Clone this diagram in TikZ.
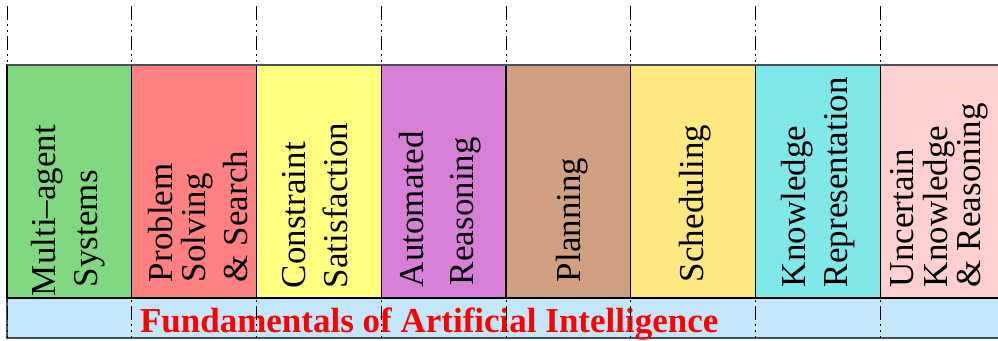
\documentclass[tikz,border=0pt]{standalone}
\usepackage{fontspec}
\setmainfont{Liberation Serif}
\definecolor{cA}{HTML}{80D880}
\definecolor{cB}{HTML}{FF8080}
\definecolor{cC}{HTML}{FFFF80}
\definecolor{cD}{HTML}{D880D8}
\definecolor{cE}{HTML}{D0A080}
\definecolor{cF}{HTML}{FFE880}
\definecolor{cG}{HTML}{80E8E8}
\definecolor{cH}{HTML}{FFD0D0}
\definecolor{bandfill}{HTML}{C4E6FA}
\definecolor{bandline}{HTML}{4A5058}
\begin{document}
\begin{tikzpicture}[x=1pt,y=-1pt,
  lbl/.style={rotate=90,anchor=base west,inner sep=0pt,outer sep=0pt,font=\fontsize{35}{40}\selectfont},
  ttl/.style={anchor=base west,inner sep=0pt,outer sep=0pt,text=red,font=\fontsize{35}{40}\selectfont\bfseries},
  colbox/.style={draw=black,line width=1.3pt},
  guide/.style={line width=0.9pt,dash pattern=on 14pt off 4pt on 2pt off 4pt on 2pt off 4pt},
  bandbox/.style={draw=bandline,fill=bandfill,line width=1.3pt}]
\useasboundingbox (0,0) rectangle (998,340);
\clip (0,0) rectangle (998,340);
% band
\draw[bandbox] (7,298) rectangle (1010,338);
\node[ttl] (title) at (140,332) {Fundamentals of Artificial Intelligence};
% guides
\foreach \i in {0,...,8} {
  \coordinate (g\i t) at (7+124.75*\i,6);
  \coordinate (g\i b) at (7+124.75*\i,338);
  \draw[guide] (g\i t) -- (g\i b);
}
% boxes
\foreach \i/\c in {0/cA,1/cB,2/cC,3/cD,4/cE,5/cF,6/cG,7/cH} {
  \draw[colbox,fill=\c] (7+124.75*\i,65) rectangle (7+124.75*\i+124.75,298);
}
\draw[draw=bandline,line width=1.3pt] (7,65) -- (1010,65);
% labels
\node[lbl] (l1a) at (55,296) {Multi–agent};
\node[lbl] (l1b) at (97,287) {Systems};
\node[lbl] (l2a) at (172,282) {Problem};
\node[lbl] (l2b) at (205,282) {Solving};
\node[lbl] (l2c) at (247,282) {\& Search};
\node[lbl] (l3a) at (305,288) {Constraint};
\node[lbl] (l3b) at (347,288) {Satisfaction};
\node[lbl] (l4a) at (423,287) {Automated};
\node[lbl] (l4b) at (473,285) {Reasoning};
\node[lbl] (l5a) at (580,282) {Planning};
\node[lbl] (l6a) at (703,282) {Scheduling};
\node[lbl] (l7a) at (805,287) {Knowledge};
\node[lbl] (l7b) at (847,287) {Representation};
\node[lbl] (l8a) at (913,287) {Uncertain};
\node[lbl] (l8b) at (947,287) {Knowledge};
\node[lbl] (l8c) at (980,287) {\& Reasoning};
\end{tikzpicture}
\end{document}
